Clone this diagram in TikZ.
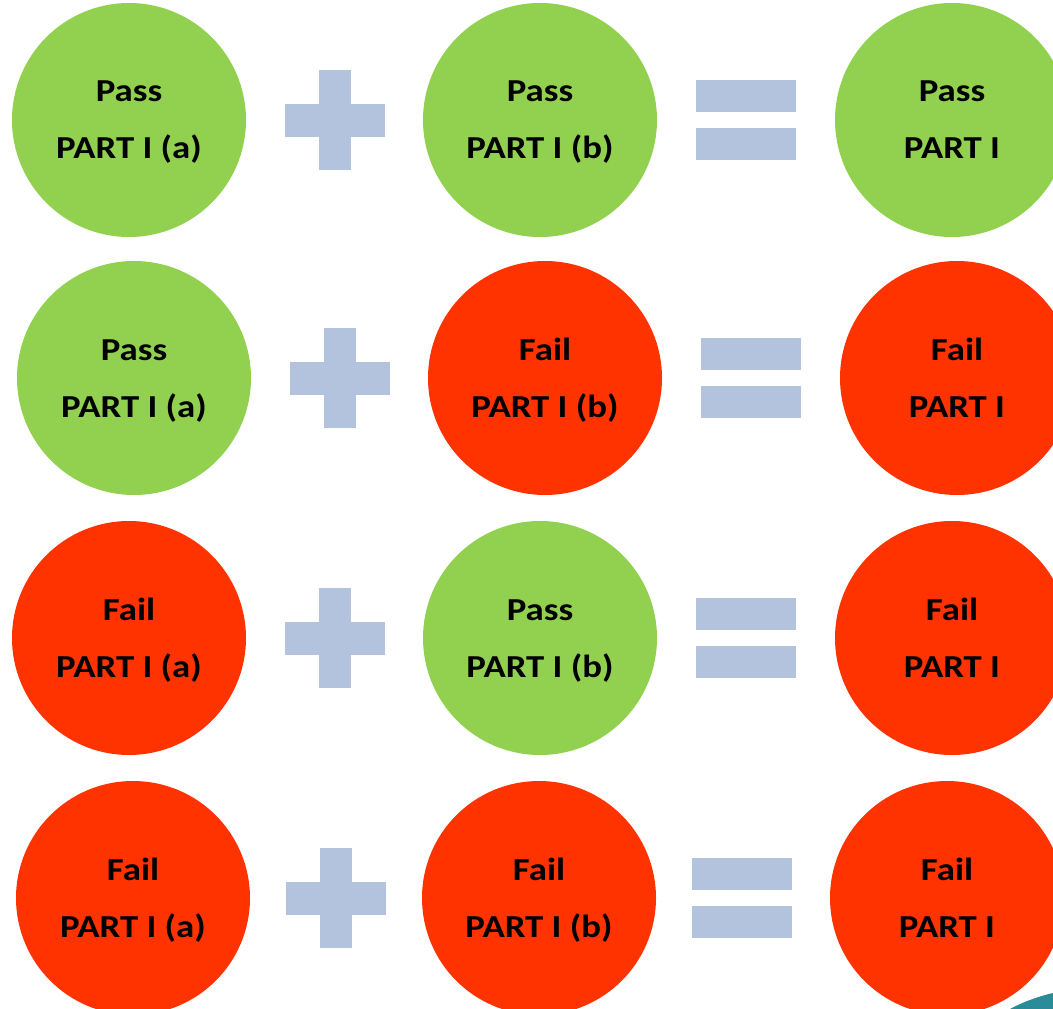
\documentclass[tikz,border=0pt]{standalone}
\usepackage{fontspec}
\setmainfont{Carlito}[FakeStretch=1.15]
\usepackage{tikz}

\definecolor{passgreen}{HTML}{92D050}
\definecolor{failred}{HTML}{FF3300}
\definecolor{signblue}{HTML}{B3C3DD}
\definecolor{cornerteal}{HTML}{2A8C98}

% two text lines with fixed height and depth
\newcommand{\twolines}[2]{\rule{0pt}{27.75pt}#1\\#2\rule[-12pt]{0pt}{12pt}}

\begin{document}
\begin{tikzpicture}[x=0.75pt, y=-0.75pt,
    result/.style={circle, minimum size=175.5pt, inner sep=0pt, align=center,
        font=\bfseries\fontsize{24}{42.75}\selectfont},
    pass/.style={result, fill=passgreen},
    fail/.style={result, fill=failred},
    sign/.style={fill=signblue}]
    \clip (0,0) rectangle (1053,1009);
    \fill[white] (0,0) rectangle (1053,1009);

    % Row 1: pass + pass = pass
    \node[pass] (a1) at (129,120) {\twolines{Pass}{PART I (a)}};
    \node[pass] (b1) at (540,120) {\twolines{Pass}{PART I (b)}};
    \node[pass] (r1) at (952,120) {\twolines{Pass}{PART I}};
    \fill[sign] (319,70) rectangle (351,170);
    \fill[sign] (285,104) rectangle (385,137);
    \fill[sign] (696,80) rectangle (796,112);
    \fill[sign] (696,128) rectangle (796,160);

    % Row 2: pass + fail = fail
    \node[pass] (a2) at (134,378) {\twolines{Pass}{PART I (a)}};
    \node[fail] (b2) at (545,378) {\twolines{Fail}{PART I (b)}};
    \node[fail] (r2) at (957,378) {\twolines{Fail}{PART I}};
    \fill[sign] (324,328) rectangle (356,428);
    \fill[sign] (290,362) rectangle (390,395);
    \fill[sign] (701,338) rectangle (801,370);
    \fill[sign] (701,386) rectangle (801,418);

    % Row 3: fail + pass = fail
    \node[fail] (a3) at (129,638) {\twolines{Fail}{PART I (a)}};
    \node[pass] (b3) at (540,638) {\twolines{Pass}{PART I (b)}};
    \node[fail] (r3) at (952,638) {\twolines{Fail}{PART I}};
    \fill[sign] (319,588) rectangle (351,688);
    \fill[sign] (285,622) rectangle (385,655);
    \fill[sign] (696,598) rectangle (796,630);
    \fill[sign] (696,646) rectangle (796,678);

    % Row 4: fail + fail = fail
    \node[fail] (a4) at (133,898) {\twolines{Fail}{PART I (a)}};
    \node[fail] (b4) at (539,898) {\twolines{Fail}{PART I (b)}};
    \node[fail] (r4) at (947,898) {\twolines{Fail}{PART I}};
    \fill[sign] (320,848) rectangle (352,948);
    \fill[sign] (286,882) rectangle (386,915);
    \fill[sign] (692,858) rectangle (792,890);
    \fill[sign] (692,906) rectangle (792,938);

    % Corner decoration
    \fill[cornerteal] (1010,1009) .. controls (1025,1001) and (1040,996) .. (1053,993) -- (1053,1009) -- cycle;
\end{tikzpicture}
\end{document}
